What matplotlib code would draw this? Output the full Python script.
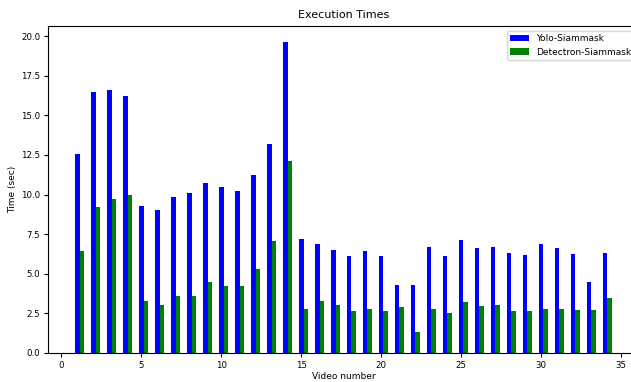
import numpy as np
import matplotlib
matplotlib.use("Agg")
import matplotlib.pyplot as plt

# ── Data ──────────────────────────────────────────────────────────
videos = list(range(1, 35))

yolo_siammask = [12.55, 16.45, 16.6, 16.2, 9.3, 9.0, 9.85, 10.1, 10.75, 10.5,
                 10.25, 11.25, 13.2, 19.65, 7.2, 6.9, 6.5, 6.1, 6.45, 6.15,
                 4.3, 4.3, 6.7, 6.15, 7.1, 6.6, 6.7, 6.3, 6.2, 6.85,
                 6.6, 6.25, 4.45, 6.3]

detectron_siammask = [6.45, 9.2, 9.7, 9.95, 3.25, 3.0, 3.6, 3.6, 4.45, 4.25,
                      4.2, 5.3, 7.05, 12.1, 2.75, 3.3, 3.05, 2.65, 2.75, 2.65,
                      2.9, 1.3, 2.8, 2.5, 3.2, 2.95, 3.0, 2.65, 2.65, 2.8,
                      2.75, 2.7, 2.7, 3.5]

# ── Style ─────────────────────────────────────────────────────────
plt.rcParams["font.family"] = ["DejaVu Sans Condensed", "DejaVu Sans"]

fig = plt.figure(figsize=(6.31, 3.82), dpi=100)
# the axes run a little past the right edge, as in the original crop
ax = fig.add_axes([48 / 631, 29 / 382, 591 / 631, 327 / 382])

x = np.array(videos)
width = 0.3
ax.bar(x, yolo_siammask, width=width, color="blue", label="Yolo-Siammask")
ax.bar(x + width, detectron_siammask, width=width, color="green",
       label="Detectron-Siammask")

ax.set_title("Execution Times", fontsize=8)
ax.set_xlabel("Video number", fontsize=6.5, labelpad=1.5)
ax.set_ylabel("Time (sec)", fontsize=6.5, labelpad=3)
ax.tick_params(labelsize=6.2, length=3, pad=2.5)
ax.legend(loc="upper right", fontsize=6.5)

plt.savefig("out.png", dpi=100)
